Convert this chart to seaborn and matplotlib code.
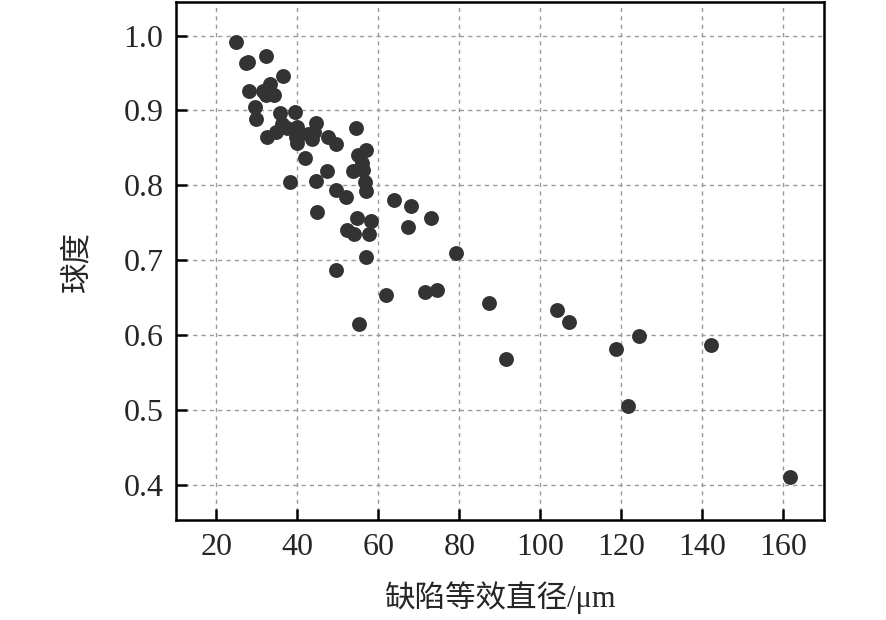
import matplotlib
matplotlib.use("Agg")
import matplotlib.pyplot as plt
import seaborn as sns
import pandas as pd

# equivalent diameter of defects (µm)
diameter = [24.9, 27.2, 27.7, 32.2, 36.5, 28.1, 33.2, 31.6, 34.2, 32.2,
            29.5, 29.8, 35.7, 39.3, 32.4, 34.7, 36.3, 37.5, 40.0, 39.6,
            40.0, 42.5, 44.5, 44.1, 43.5, 47.5, 49.6, 54.5, 42.0, 47.4,
            44.7, 38.1, 57.0, 55.0, 56.0, 56.2, 53.8, 56.7, 57.0, 49.5,
            52.1, 63.8, 68.0, 73.1, 67.2, 54.8, 58.1, 52.3, 54.1, 57.7,
            44.9, 79.1, 56.9, 49.6, 61.8, 71.4, 74.4, 55.2, 87.4, 104.2,
            107.2, 124.3, 118.7, 91.6, 142.2, 121.7, 161.7]
# sphericity
sphericity = [0.992, 0.963, 0.965, 0.973, 0.946, 0.926, 0.935, 0.926, 0.921, 0.920,
              0.905, 0.888, 0.896, 0.898, 0.865, 0.871, 0.882, 0.876, 0.878, 0.864,
              0.856, 0.869, 0.883, 0.871, 0.862, 0.864, 0.855, 0.876, 0.837, 0.819,
              0.806, 0.804, 0.847, 0.840, 0.830, 0.821, 0.819, 0.804, 0.793, 0.794,
              0.785, 0.780, 0.773, 0.757, 0.744, 0.756, 0.752, 0.741, 0.735, 0.735,
              0.764, 0.710, 0.705, 0.687, 0.653, 0.658, 0.660, 0.615, 0.643, 0.634,
              0.617, 0.599, 0.582, 0.568, 0.587, 0.505, 0.410]

x_ticks = [20, 40, 60, 80, 100, 120, 140, 160]
y_ticks = [0.4, 0.5, 0.6, 0.7, 0.8, 0.9, 1.0]
x_label = "缺陷等效直径/μm"
y_label = "球度"

df = pd.DataFrame({"d": diameter, "s": sphericity})

sns.set_style("ticks")
plt.rcParams["font.family"] = ["Liberation Serif", "Noto Sans CJK SC"]

fig = plt.figure(figsize=(8.86, 6.2), dpi=100)
ax = fig.add_axes([0.1986, 0.161, 0.731, 0.836])

sns.scatterplot(data=df, x="d", y="s", ax=ax, color="#333333", s=115,
                edgecolor="#333333", linewidth=0, zorder=3, legend=False)

ax.set_xlim(10, 170)
ax.set_ylim(0.353, 1.045)
ax.set_xticks(x_ticks)
ax.set_yticks(y_ticks)
ax.set_yticklabels([f"{v:.1f}" for v in y_ticks])
ax.grid(True, color="#999999", linestyle=(0, (3, 3)), linewidth=1.0, zorder=0)
ax.tick_params(direction="in", length=8, width=1.8, labelsize=23, pad=9,
               top=False, right=False, color="black")
for sp in ax.spines.values():
    sp.set_linewidth(1.8)
    sp.set_color("black")
    sp.set_visible(True)

ax.set_xlabel(x_label, fontsize=22, labelpad=14)
ax.set_ylabel(y_label, fontsize=22, labelpad=22)

fig.savefig("out.png", dpi=100)
